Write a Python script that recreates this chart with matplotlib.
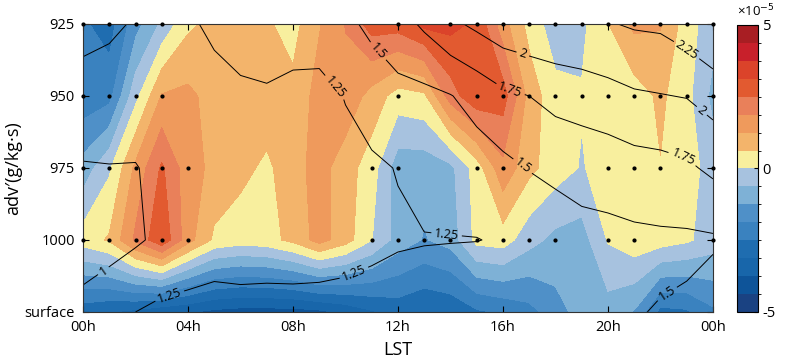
import numpy as np
import matplotlib
matplotlib.use('Agg')
import matplotlib.pyplot as plt
from matplotlib.colors import ListedColormap, BoundaryNorm

plt.rcParams['font.family'] = ['Open Sans', 'DejaVu Sans']

hours = np.arange(25)
xtick_labels = ['00h', '04h', '08h', '12h', '16h', '20h', '00h']
level_labels = ['surface', '1000', '975', '950', '925']

# adv' in 1e-5 g/kg/s, one list per level
adv_925 = [-2.4, -2.8, -1.5, -0.5, 0.5, 0.8, 1.0, 0.7, 0.4, 1.2, 1.9, 2.8, 2.8,
           3.3, 3.3, 3.0, 1.5, 0.4, -0.35, -0.15, 0.6, 1.4, 1.3, 0.3, -0.4]
adv_950 = [-2.3, -2.1, -0.2, 1.3, 1.4, 1.0, 1.0, 1.0, 0.8, 1.5, 1.7, 1.0, 0.35,
           0.5, 2.2, 3.0, 2.8, 1.0, 0.2, 0.05, 0.3, 0.3, 0.75, 0.2, -0.8]
adv_975 = [-1.0, -0.1, 1.4, 2.6, 1.5, 1.1, 0.8, 0.5, 1.0, 1.5, 0.9, 0.3, -1.0,
           -1.0, -0.8, 0.3, 1.7, 0.8, 0.3, -0.05, 0.3, 0.4, 0.6, 0.3, -0.3]
adv_1000 = [0.3, 0.7, 2.0, 3.0, 1.5, 0.5, 0.3, 0.4, 0.8, 1.5, 0.9, 0.02, -0.9,
            -1.3, -1.0, 0.2, 0.3, -0.4, -0.8, -0.9, 0.05, 0.4, 0.3, 0.1, -0.3]
adv_sfc = [-2.9, -3.1, -3.3, -3.6, -3.7, -3.9, -4.0, -4.0, -4.0, -3.9, -3.6, -3.2, -2.9,
           -3.1, -3.0, -2.6, -2.4, -2.1, -1.5, -1.0, -0.9, -1.3, -2.7, -2.6, -2.0]

# field drawn as black contour lines
q_925 = [1.30, 1.28, 1.235, 1.21, 1.235, 1.27, 1.30, 1.32, 1.33, 1.38, 1.45, 1.55, 1.65,
         1.79, 1.95, 2.05, 2.15, 2.2, 2.21, 2.22, 2.235, 2.275, 2.29, 2.38, 2.5]
q_950 = [1.19, 1.17, 1.12, 1.15, 1.17, 1.215, 1.23, 1.235, 1.205, 1.17, 1.26, 1.37, 1.43,
         1.44, 1.49, 1.59, 1.70, 1.75, 1.83, 1.87, 1.92, 1.97, 1.99, 2.01, 2.1]
q_975 = [0.98, 0.99, 0.99, 1.06, 1.09, 1.12, 1.14, 1.15, 1.15, 1.16, 1.18, 1.21, 1.26,
         1.37, 1.38, 1.38, 1.44, 1.51, 1.55, 1.58, 1.60, 1.65, 1.67, 1.71, 1.8]
q_1000 = [0.95, 0.90, 0.97, 1.05, 1.07, 1.10, 1.12, 1.13, 1.14, 1.15, 1.16, 1.20, 1.22,
          1.235, 1.24, 1.245, 1.27, 1.3, 1.38, 1.43, 1.44, 1.45, 1.46, 1.46, 1.47]
q_sfc = [1.03, 1.17, 1.25, 1.30, 1.33, 1.36, 1.33, 1.33, 1.32, 1.32, 1.335, 1.34, 1.40,
         1.42, 1.45, 1.47, 1.48, 1.46, 1.45, 1.47, 1.48, 1.49, 1.51, 1.53, 1.62]

# hours with significance dots
dots_925 = [0, 1, 2, 3, 12, 14, 15, 16, 17, 18, 19, 20, 21, 22, 23, 24]
dots_950 = [0, 1, 2, 3, 12, 15, 16, 17, 18, 19, 20, 21, 22, 23, 24]
dots_975 = [0, 1, 2, 3, 4, 11, 12, 15, 16, 20, 21, 22, 24]
dots_1000 = [0, 1, 2, 3, 4, 11, 12, 13, 14, 15, 16, 17, 18, 20, 21, 24]

line_levels = [1, 1.25, 1.5, 1.75, 2, 2.25]

colors = ['#1a4282', '#0e5499', '#1866aa', '#1f6db0', '#3a82bf', '#4f90c8', '#7eb1d6', '#a7c2df',
          '#f8ef9e', '#f3b46b', '#ef9a5c', '#e9805a', '#e25a30', '#db432a', '#c8202b', '#a81e23']
fill_levels = np.linspace(-5, 5, 17)
cmap = ListedColormap(colors)
norm = BoundaryNorm(fill_levels, cmap.N)

adv = np.array([adv_sfc, adv_1000, adv_975, adv_950, adv_925])
q = np.array([q_sfc, q_1000, q_975, q_950, q_925])
ylev = np.arange(5)

fig = plt.figure(figsize=(7.96, 3.64), dpi=100)
ax = fig.add_axes([0.1043, 0.1429, 0.7914, 0.7912])

cf = ax.contourf(hours, ylev, adv, levels=fill_levels, cmap=cmap, norm=norm)
cs = ax.contour(hours, ylev, q, levels=line_levels, colors='black', linewidths=0.7)
label_pos = [(0.76, 0.58), (9.79, 3.18), (13.87, 1.14), (10.36, 0.51), (3.31, 0.21),
             (11.2, 3.61), (16.84, 2.07), (22.36, 0.19), (16.27, 3.08), (22.86, 2.15),
             (16.72, 3.54), (23.5, 2.76), (23.0, 3.64)]
ax.clabel(cs, fmt='%g', fontsize=9, manual=label_pos, inline=True, inline_spacing=3)

for lev, hrs in zip([4, 3, 2, 1], [dots_925, dots_950, dots_975, dots_1000]):
    ax.plot(hrs, [lev] * len(hrs), 'o', color='black', markersize=2.0, clip_on=False, zorder=5)

ax.set_xlim(0, 24)
ax.set_ylim(0, 4)
ax.set_xticks(np.arange(0, 25, 4))
ax.set_xticklabels(xtick_labels, fontsize=10.5)
ax.set_yticks(ylev)
ax.set_yticklabels(level_labels, fontsize=10.5)
ax.tick_params(direction='in', top=True, right=True, length=4, width=0.8, pad=6)
for s in ax.spines.values():
    s.set_linewidth(0.8)
    s.set_color('#333333')
ax.set_xlabel('LST', fontsize=13, labelpad=4)
ax.set_ylabel('adv\u2032(g/kg\u00b7s)', fontsize=13)
ax.yaxis.set_label_coords(-0.097, 0.5)

cax = fig.add_axes([0.926, 0.1429, 0.026, 0.7885])
cb = fig.colorbar(cf, cax=cax, ticks=[-5, 0, 5])
cb.ax.set_yticklabels(['-5', '0', '5'], fontsize=10.5)
cb.ax.tick_params(direction='in', length=3, width=0.8)
cb.outline.set_linewidth(0.8)
cax.text(0.0, 1.02, '\u00d710$^{-5}$', transform=cax.transAxes, fontsize=9.5, va='bottom', ha='left')

fig.savefig('out.png', dpi=100)
